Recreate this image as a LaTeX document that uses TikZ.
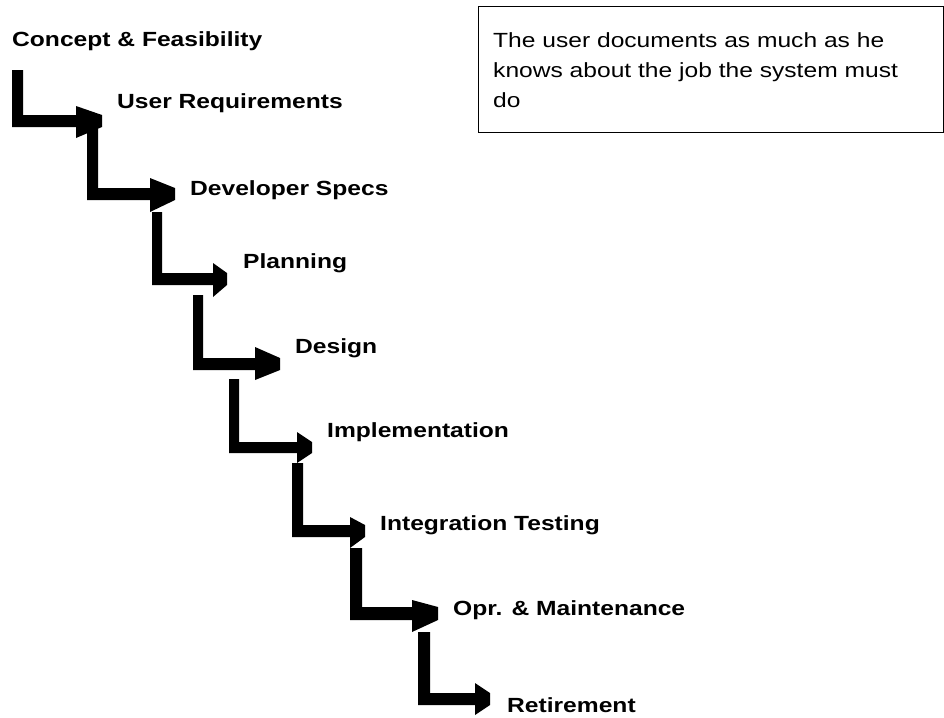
\documentclass[tikz,border=0pt]{standalone}
\usepackage{fontspec}
\setmainfont{Liberation Sans}[FakeStretch=1.2]
\newcommand{\bentarrow}[9]{%
  \fill[stepfill] (#1,#3) -- (#2,#3) -- (#2,#4) -- (#6,#4) -- (#6,#8) -- (#7,#4)
     -- (#7,#5) -- (#6,#9) -- (#6,#5) -- (#1,#5) -- cycle;}
\begin{document}
\begin{tikzpicture}[x=1pt,y=-1pt,
  stepfill/.style={fill=black},
  lbl/.style={font=\bfseries\fontsize{20.5}{24}\selectfont, anchor=base west, inner sep=0pt},
  note/.style={font=\fontsize{20.5}{30}\selectfont, anchor=north west, inner sep=0pt, align=left},
  notebox/.style={draw=black, line width=1.4pt, inner sep=0pt, anchor=north west,
                  minimum width=464.5pt, minimum height=126pt}]
\useasboundingbox (0,0) rectangle (944,717);

% labels
\node[lbl] (concept) at (12,47) {Concept \& Feasibility};
\node[lbl] (userreq) at (117,108) {User Requirements};
\node[lbl] (devspec) at (190,195) {Developer Specs};
\node[lbl] (plan)    at (243,268) {Planning};
\node[lbl] (design)  at (295,353) {Design};
\node[lbl] (impl)    at (327,437) {Implementation};
\node[lbl] (integ)   at (380,530) {Integration Testing};
\node[lbl] (opr)     at (453,615) {Opr. \& Maintenance};
\node[lbl] (retire)  at (507,712) {Retirement};

% bent step arrows: xl xr ytop hbarTop hbarBot headBase tip headTop headBot
\bentarrow{12}{23}{70}{115}{127}{76}{102}{106}{138}
\bentarrow{87}{98}{127}{188}{200}{150}{175}{178}{212}
\bentarrow{152}{162}{212}{273}{285}{213}{227}{263}{297}
\bentarrow{193}{203}{295}{358}{370}{255}{280}{347}{380}
\bentarrow{229}{239}{379}{442}{453}{297}{312}{432}{463}
\bentarrow{292}{303}{463}{525}{537}{350}{365}{517}{548}
\bentarrow{350}{362}{548}{607}{620}{412}{438}{600}{632}
\bentarrow{418}{430}{632}{693}{705}{475}{490}{683}{715}

% note box
\node[notebox] (box) at (478,6) {};
\node[note] (notetext) at (493,32.5) {The user documents as much as he\\knows about the job the system must\\do};
\end{tikzpicture}
\end{document}
